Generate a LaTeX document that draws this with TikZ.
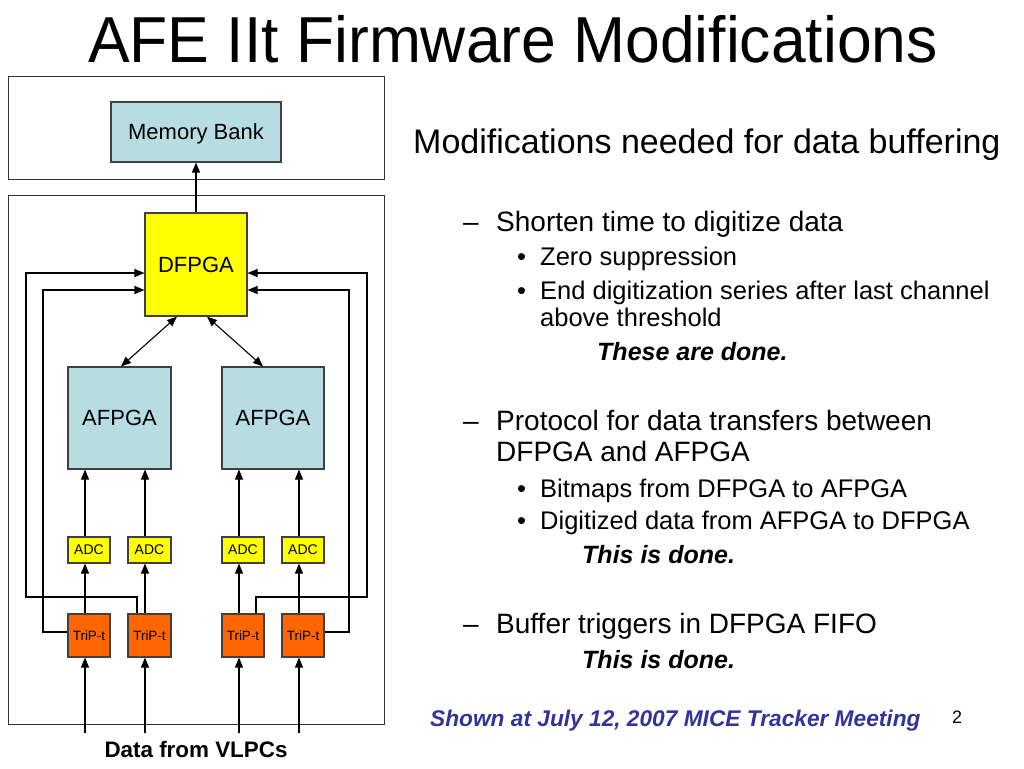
\documentclass[tikz,border=0pt]{standalone}
\usepackage{fontspec}
\setmainfont{Liberation Sans}
\newfontfamily\titlefont[FakeStretch=0.96]{Liberation Sans}
\usetikzlibrary{arrows.meta}
\newcommand\fsz[1]{\fontsize{#1}{#1}\selectfont}
\definecolor{lblue}{RGB}{183,221,226}
\definecolor{ored}{RGB}{255,102,0}
\definecolor{yel}{RGB}{255,255,0}
\definecolor{fblue}{RGB}{51,51,153}
\definecolor{bord}{RGB}{64,64,64}
\begin{document}
\begin{tikzpicture}[x=1pt,y=-1pt,
  box/.style={draw=bord, line width=1.1pt, inner sep=0pt},
  frame/.style={draw=black!80, line width=1pt},
  lbl/.style={inner sep=0pt, anchor=base west},
  tip/.tip={Triangle[length=10pt,width=8pt]},
  arr/.style={-tip, line width=1.1pt},
  biarr/.style={tip-tip, line width=1.1pt},
  bigbox/.style={box, minimum width=103pt, minimum height=103pt, font=\fsz{22}},
  adcbox/.style={box, fill=yel, minimum width=42pt, minimum height=26pt, font=\fsz{14}},
  tripbox/.style={box, fill=ored, minimum width=42pt, minimum height=43pt, font=\fsz{13.5}},
  lvA/.style={lbl, font=\fsz{34}},
  lvB/.style={lbl, font=\fsz{28}},
  lvC/.style={lbl, font=\fsz{25.5}},
  done/.style={lbl, font=\bfseries\itshape\fsz{25}}]
\useasboundingbox (0,0) rectangle (1024,768);

% title
\node[lbl, font=\titlefont\fsz{65}] (title) at (88,63) {AFE IIt Firmware Modifications};

% frames
\draw[frame] (8,76) rectangle (384,179);
\draw[frame] (8,195) rectangle (384,724);

% blocks
\node[box, fill=lblue, minimum width=170pt, minimum height=60pt, text depth=0pt, font=\fsz{22}] (mb) at (196,132) {Memory Bank};
\node[bigbox, fill=yel, minimum width=102pt] (d) at (196,264.5) {DFPGA};
\node[bigbox, fill=lblue, minimum height=102pt] (af1) at (119.5,418) {AFPGA};
\node[bigbox, fill=lblue, minimum width=102pt, minimum height=102pt] (af2) at (273,418) {AFPGA};

\node[adcbox] (c1) at (89,550) {ADC};
\node[adcbox, minimum width=43pt] (c2) at (149.5,550) {ADC};
\node[adcbox] (c3) at (243,550) {ADC};
\node[adcbox] (c4) at (303,550) {ADC};

\node[tripbox] (t1) at (89,635.5) {TriP-t};
\node[tripbox, minimum width=43pt] (t2) at (149.5,635.5) {TriP-t};
\node[tripbox] (t3) at (243,635.5) {TriP-t};
\node[tripbox] (t4) at (303,635.5) {TriP-t};

% connectors
\draw[arr] (d.north) -- (mb.south);
\draw[biarr] ([xshift=-19pt]d.south) -- ([xshift=1.5pt]af1.north);
\draw[biarr] ([xshift=11pt]d.south) -- ([xshift=-10pt]af2.north);

\draw[arr] ([xshift=-4pt]c1.north) -- ([xshift=-4pt]c1.north |- af1.south);
\draw[arr] ([xshift=-4.5pt]c2.north) -- ([xshift=-4.5pt]c2.north |- af1.south);
\draw[arr] ([xshift=-4pt]c3.north) -- ([xshift=-4pt]c3.north |- af2.south);
\draw[arr] ([xshift=-4pt]c4.north) -- ([xshift=-4pt]c4.north |- af2.south);

\draw[arr] ([xshift=-4pt]t1.north) -- ([xshift=-4pt]c1.south);
\draw[arr] ([xshift=-4.5pt]t2.north) -- ([xshift=-4.5pt]c2.south);
\draw[arr] ([xshift=-4pt]t3.north) -- ([xshift=-4pt]c3.south);
\draw[arr] ([xshift=-4pt]t4.north) -- ([xshift=-4pt]c4.south);

\coordinate (in1) at (85,733);
\coordinate (in2) at (145,733);
\coordinate (in3) at (239,733);
\coordinate (in4) at (299,733);
\draw[arr] (in1) -- (in1 |- t1.south);
\draw[arr] (in2) -- (in2 |- t2.south);
\draw[arr] (in3) -- (in3 |- t3.south);
\draw[arr] (in4) -- (in4 |- t4.south);

\coordinate (yo) at (0,273);
\coordinate (yi) at (0,290);
\draw[arr] ([yshift=3.5pt]t1.west) -| (43,290) -- (d.west |- yi);
\draw[arr] ([xshift=-12.5pt]t2.north) |- (26,597) |- (d.west |- yo);
\draw[arr] ([xshift=13pt]t3.north) |- (367,597) |- (d.east |- yo);
\draw[arr] ([yshift=3.5pt]t4.east) -| (349,290) -- (d.east |- yi);

\node[inner sep=0pt, anchor=base, font=\bfseries\fsz{22.4}] (vlpc) at (196,757) {Data from VLPCs};

% right-hand text
\node[lvA] (h1) at (413,153) {Modifications needed for data buffering};

\node[lvB] (d1) at (463,231) {–};
\node[lvB] (s1) at (496,231) {Shorten time to digitize data};
\node[lvC] (b1) at (517,265) {•};
\node[lvC] (s2) at (540,265) {Zero suppression};
\node[lvC] (b2) at (517,299) {•};
\node[lvC] (s3) at (540,299) {End digitization series after last channel};
\node[lvC] (s4) at (540,326) {above threshold};
\node[done] (k1) at (597,360) {These are done.};

\node[lvB] (d2) at (463,430) {–};
\node[lvB] (s5) at (496,430) {Protocol for data transfers between};
\node[lvB] (s6) at (496,461) {DFPGA and AFPGA};
\node[lvC] (b3) at (517,497) {•};
\node[lvC] (s7) at (540,497) {Bitmaps from DFPGA to AFPGA};
\node[lvC] (b4) at (517,529) {•};
\node[lvC] (s8) at (540,529) {Digitized data from AFPGA to DFPGA};
\node[done] (k2) at (582,563) {This is done.};

\node[lvB] (d3) at (463,633) {–};
\node[lvB] (s9) at (496,633) {Buffer triggers in DFPGA FIFO};
\node[done] (k3) at (582,668) {This is done.};

\node[lbl, font=\bfseries\itshape\fsz{22.7}, text=fblue] (foot) at (430,726) {Shown at July 12, 2007 MICE Tracker Meeting};
\node[lbl, font=\fsz{18}] (pg) at (952,723) {2};
\end{tikzpicture}
\end{document}
